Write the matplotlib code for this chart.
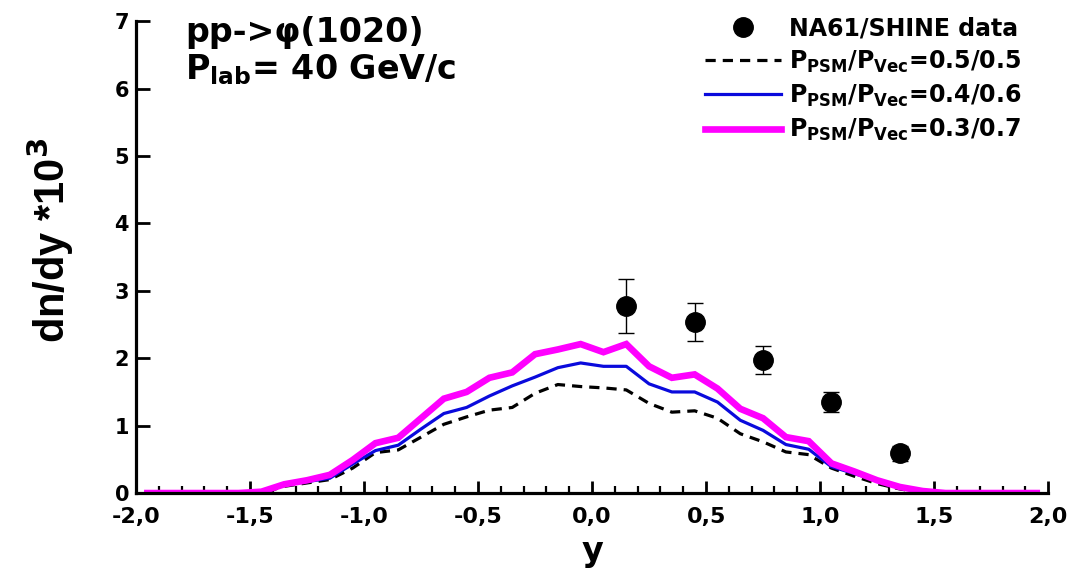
import matplotlib
matplotlib.use("Agg")
import matplotlib.pyplot as plt
from matplotlib.ticker import MultipleLocator

plt.rcParams['font.family'] = ['DejaVu Sans']
plt.rcParams['font.weight'] = 'bold'
plt.rcParams['mathtext.fontset'] = 'custom'
plt.rcParams['mathtext.rm'] = 'DejaVu Sans:bold'
plt.rcParams['mathtext.it'] = 'DejaVu Sans:bold'
plt.rcParams['mathtext.bf'] = 'DejaVu Sans:bold'

# model curves (bin centres)
y_model = [-1.95, -1.85, -1.75, -1.65, -1.55, -1.45, -1.35, -1.25, -1.15, -1.05,
           -0.95, -0.85, -0.75, -0.65, -0.55, -0.45, -0.35, -0.25, -0.15, -0.05,
           0.05, 0.15, 0.25, 0.35, 0.45, 0.55, 0.65, 0.75, 0.85, 0.95,
           1.05, 1.15, 1.25, 1.35, 1.45, 1.55, 1.65, 1.75, 1.85, 1.95]

psm_05 = [0, 0, 0, 0, 0, 0.0, 0.10, 0.15, 0.20, 0.37,
          0.60, 0.64, 0.83, 1.02, 1.13, 1.23, 1.27, 1.48, 1.61, 1.58,
          1.56, 1.53, 1.33, 1.20, 1.22, 1.11, 0.88, 0.76, 0.61, 0.57,
          0.37, 0.25, 0.14, 0.06, 0.01, 0, 0, 0, 0, 0]

psm_04 = [0, 0, 0, 0, 0, 0.01, 0.12, 0.17, 0.22, 0.43,
          0.63, 0.71, 0.95, 1.18, 1.27, 1.44, 1.59, 1.72, 1.86, 1.93,
          1.88, 1.88, 1.62, 1.50, 1.50, 1.35, 1.08, 0.93, 0.72, 0.65,
          0.39, 0.29, 0.18, 0.08, 0.02, 0, 0, 0, 0, 0]

psm_03 = [0, 0, 0, 0, 0, 0.02, 0.13, 0.19, 0.27, 0.49,
          0.74, 0.82, 1.11, 1.40, 1.50, 1.71, 1.79, 2.06, 2.13, 2.21,
          2.09, 2.21, 1.88, 1.71, 1.76, 1.55, 1.25, 1.11, 0.83, 0.77,
          0.44, 0.32, 0.19, 0.09, 0.03, 0, 0, 0, 0, 0]

# NA61/SHINE data
y_data = [0.15, 0.45, 0.75, 1.05, 1.35]
dndy_data = [2.78, 2.54, 1.97, 1.35, 0.59]
dndy_err = [0.40, 0.28, 0.21, 0.15, 0.11]

xtick_vals = [-2.0, -1.5, -1.0, -0.5, 0.0, 0.5, 1.0, 1.5, 2.0]
xtick_labels = ["-2,0", "-1,5", "-1,0", "-0,5", "0,0", "0,5", "1,0", "1,5", "2,0"]
ytick_vals = [0, 1, 2, 3, 4, 5, 6, 7]

fig = plt.figure(figsize=(10.75, 5.72), dpi=100)
ax = fig.add_axes([0.1265, 0.138, 0.8485, 0.825])

l05, = ax.plot(y_model, psm_05, color="black", lw=2.3, ls=(0, (3.2, 2.2)))
l04, = ax.plot(y_model, psm_04, color="#0a0adc", lw=2.3)
l03, = ax.plot(y_model, psm_03, color="#ff00ff", lw=4.8, solid_joinstyle="miter")
data = ax.errorbar(y_data, dndy_data, yerr=dndy_err, fmt="o", color="black",
                   ms=14, elinewidth=1.0, capsize=6, capthick=1.0, zorder=5)

ax.set_xlim(-2.0, 2.0)
ax.set_ylim(0, 7)
ax.set_xticks(xtick_vals)
ax.set_xticklabels(xtick_labels)
ax.set_yticks(ytick_vals)
ax.xaxis.set_minor_locator(MultipleLocator(0.1))

for side in ["top", "right"]:
    ax.spines[side].set_visible(False)
for side in ["left", "bottom"]:
    ax.spines[side].set_linewidth(2.3)

ax.tick_params(axis="y", which="major", direction="in", length=10, width=2.0,
               labelsize=15, pad=5)
ax.tick_params(axis="x", which="major", direction="in", length=9, width=2.0,
               labelsize=16, pad=10)
ax.tick_params(axis="x", which="minor", direction="in", length=5, width=1.6)

ax.set_xlabel("y", fontsize=24, fontweight="bold", labelpad=6)
ax.set_ylabel(r"dn/dy *10$^{3}$", fontsize=30, fontweight="bold",
              family=["Liberation Sans", "DejaVu Sans"])
ax.yaxis.set_label_coords(-0.066, 0.536)

ax.text(0.054, 0.9555, "pp->φ(1020)", transform=ax.transAxes, fontsize=24,
        fontweight="bold", va="baseline", ha="left")
ax.text(0.054, 0.876, r"P$_{\mathrm{lab}}$= 40 GeV/c", transform=ax.transAxes,
        fontsize=24, fontweight="bold", va="baseline", ha="left")

ax.legend([data[0], l05, l04, l03],
          ["NA61/SHINE data",
           r"P$_{\mathrm{PSM}}$/P$_{\mathrm{Vec}}$=0.5/0.5",
           r"P$_{\mathrm{PSM}}$/P$_{\mathrm{Vec}}$=0.4/0.6",
           r"P$_{\mathrm{PSM}}$/P$_{\mathrm{Vec}}$=0.3/0.7"],
          loc="upper left", bbox_to_anchor=(0.624, 1.01), frameon=False,
          fontsize=17, handlelength=3.2, labelspacing=0.34, handletextpad=0.35,
          borderaxespad=0, borderpad=0)

fig.savefig("out.png", dpi=100)
